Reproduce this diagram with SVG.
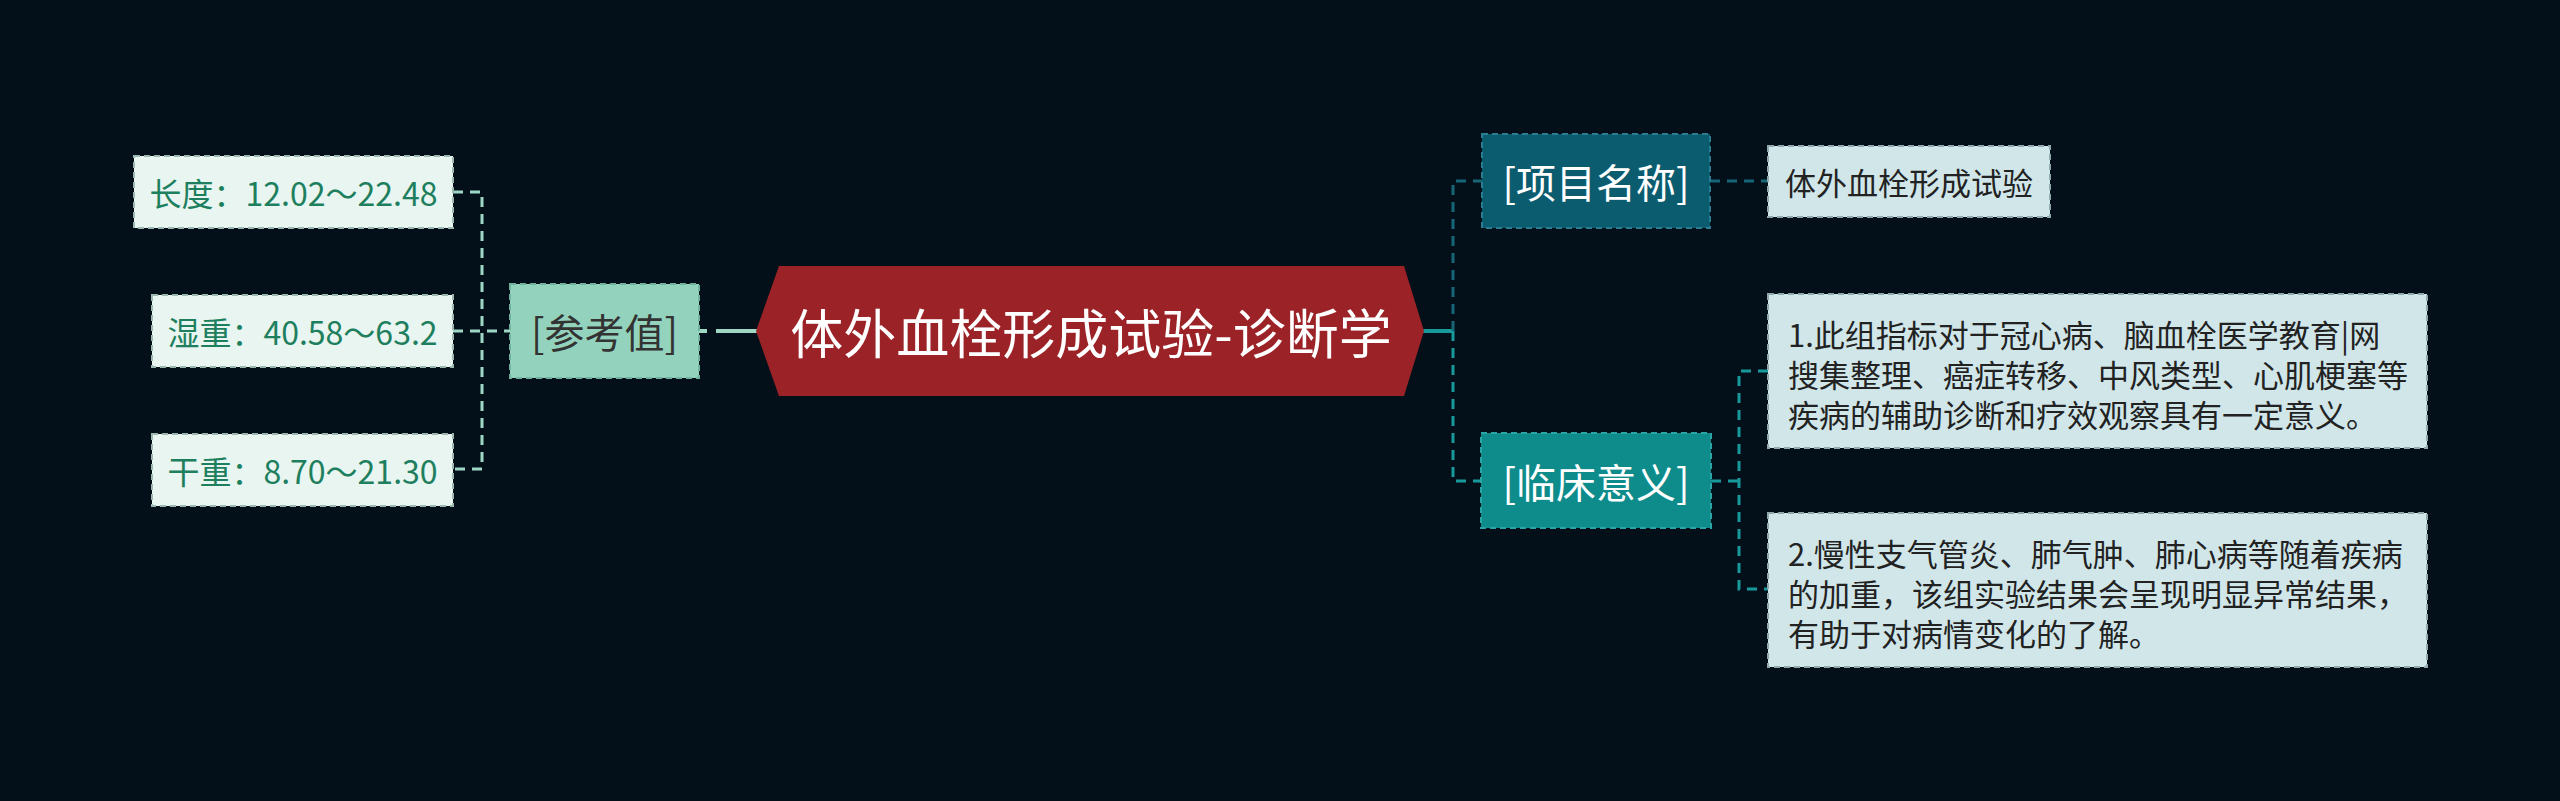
<svg xmlns="http://www.w3.org/2000/svg" width="2560" height="801" viewBox="0 0 2560 801">
<style>
text{font-family:"Noto Sans CJK SC","Noto Sans",sans-serif;dominant-baseline:central}
.box{stroke-width:2;stroke-dasharray:6 4}
.leafL{fill:#e8f5f0;stroke:#9cb8ae}
.leafLt{fill:#1e7f5e;font-size:32px;text-anchor:middle}
.leafR{fill:#d0e6e9;stroke:#8fa9ad}
.leafRt{fill:#222;font-size:31px}
.br{font-size:40px;text-anchor:middle}
.cL{stroke:#9ed8c5;stroke-width:3;fill:none;stroke-dasharray:10 7}
.cT{stroke:#176678;stroke-width:3;fill:none;stroke-dasharray:10 7}
.cB{stroke:#189a9c;stroke-width:3;fill:none;stroke-dasharray:10 7}
</style>
<rect width="2560" height="801" fill="#03101a"/>
<g id="connectors">
<path class="cL" d="M453 192 H482 V469 H453 M453 331 H510"/>
<line x1="699" y1="331" x2="707" y2="331" stroke="#9ed8c5" stroke-width="4"/>
<line x1="716" y1="331" x2="757" y2="331" stroke="#9ed8c5" stroke-width="4"/>
<line x1="1423" y1="331" x2="1453" y2="331" stroke="#189a9c" stroke-width="4"/>
<path class="cT" d="M1453 331 V181 H1482"/>
<path class="cB" d="M1453 331 V481 H1481"/>
<path class="cT" d="M1710 181 H1768"/>
<path class="cB" d="M1711 481 H1739 M1768 371 H1739 V589 H1768"/>
</g>
<g id="center">
<polygon points="756,331 779,266 1404,266 1424,331 1404,396 779,396" fill="#9b2226"/>
<text x="1091" y="331" fill="#fff" font-size="53" text-anchor="middle">体外血栓形成试验-诊断学</text>
</g>
<g id="ref">
<rect class="box" x="510" y="284" width="189" height="94" fill="#93d3bd" stroke="#6fb39c"/>
<text class="br" x="604.5" y="331" fill="#333">[参考值]</text>
</g>
<g id="len">
<rect class="box leafL" x="134" y="156" width="319" height="72"/>
<text class="leafLt" x="293.5" y="192">长度：12.02～22.48</text>
</g>
<g id="wet">
<rect class="box leafL" x="152" y="295" width="301" height="72"/>
<text class="leafLt" x="302.5" y="331">湿重：40.58～63.2</text>
</g>
<g id="dry">
<rect class="box leafL" x="152" y="434" width="301" height="72"/>
<text class="leafLt" x="302.5" y="470">干重：8.70～21.30</text>
</g>
<g id="name">
<rect class="box" x="1482" y="134" width="228" height="94" fill="#0c5c70" stroke="#2a7d90"/>
<text class="br" x="1596" y="181" fill="#fff">[项目名称]</text>
</g>
<g id="nameval">
<rect class="box leafR" x="1768" y="146" width="282" height="71"/>
<text class="leafRt" x="1909" y="181.5" text-anchor="middle">体外血栓形成试验</text>
</g>
<g id="clinic">
<rect class="box" x="1481" y="433" width="230" height="95" fill="#0e8c8c" stroke="#2aa5a5"/>
<text class="br" x="1596" y="480.5" fill="#fff">[临床意义]</text>
</g>
<g id="c1">
<rect class="box leafR" x="1768" y="294" width="659" height="154"/>
<text class="leafRt" x="1788" y="333">1.此组指标对于冠心病、脑血栓医学教育|网</text>
<text class="leafRt" x="1788" y="373">搜集整理、癌症转移、中风类型、心肌梗塞等</text>
<text class="leafRt" x="1788" y="413">疾病的辅助诊断和疗效观察具有一定意义。</text>
</g>
<g id="c2">
<rect class="box leafR" x="1768" y="513" width="659" height="154"/>
<text class="leafRt" x="1788" y="552">2.慢性支气管炎、肺气肿、肺心病等随着疾病</text>
<text class="leafRt" x="1788" y="592">的加重，该组实验结果会呈现明显异常结果，</text>
<text class="leafRt" x="1788" y="632">有助于对病情变化的了解。</text>
</g>
</svg>
